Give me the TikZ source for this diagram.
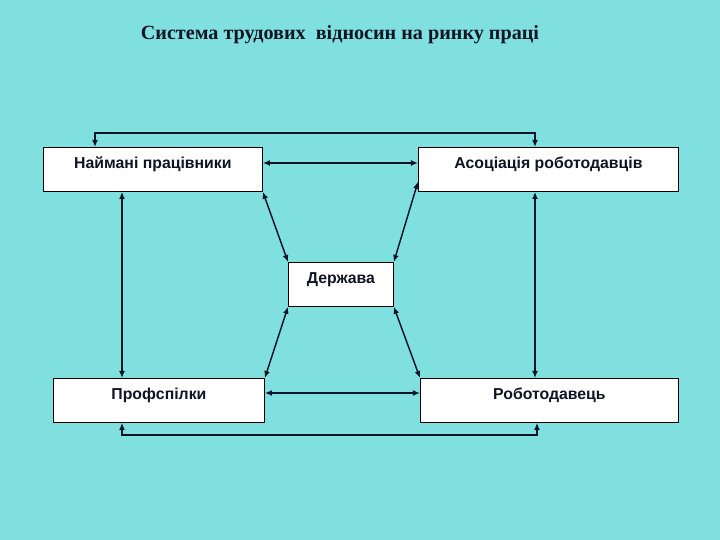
\documentclass[tikz,border=0pt]{standalone}
\usepackage{fontspec}
\setmainfont{Liberation Serif}
\setsansfont{Liberation Sans}
\usetikzlibrary{arrows.meta}
\definecolor{bgcyan}{RGB}{128,224,224}
\definecolor{linedark}{RGB}{16,20,36}
\tikzset{
  box/.style={draw=black, line width=0.7pt, fill=white, anchor=north west,
    inner sep=0pt, text height=0.62cm, text depth=0.70cm,
    font=\sffamily\bfseries\fontsize{13.5}{16}\selectfont, text=linedark},
  link/.style={draw=linedark, line width=1.25pt,
    {Latex[length=6pt,width=5pt]}-{Latex[length=6pt,width=5pt]}},
}
\begin{document}
\begin{tikzpicture}[x=0.03cm, y=-0.03cm]
    \fill[bgcyan] (0,0) rectangle (720,540);
    \useasboundingbox (0,0) rectangle (720,540);
    \node[text=linedark, font=\bfseries\fontsize{17.2}{20}\selectfont] (title) at (340,35)
      {Система трудових\ \ відносин на ринку праці};
    % boxes
    \node[box, minimum width=6.57cm] (hire) at (43,147) {Наймані працівники};
    \node[box, minimum width=7.8cm] (assoc) at (418,147) {Асоціація роботодавців};
    \node[box, minimum width=3.15cm] (state) at (288,262) {Держава};
    \node[box, minimum width=6.33cm] (union) at (53,378) {Профспілки};
    \node[box, minimum width=7.74cm] (empl) at (420,378) {Роботодавець};
    % helper points
    \coordinate (tl) at (95,133);
    \coordinate (tr) at (535,133);
    \coordinate (bl) at (122,435);
    \coordinate (br) at (537,435);
    \coordinate (lv) at (122,0);
    \coordinate (rv) at (535,0);
    \coordinate (ht) at (0,163);
    \coordinate (hb) at (0,393);
    % connectors
    \draw[link] (hire.north -| tl) -- (tl) -- (tr) -- (assoc.north -| tr);
    \draw[link] (union.south -| bl) -- (bl) -- (br) -- (empl.south -| br);
    \draw[link] (hire.south -| lv) -- (union.north -| lv);
    \draw[link] (assoc.south -| rv) -- (empl.north -| rv);
    \draw[link] (hire.east |- ht) -- (assoc.west |- ht);
    \draw[link] (union.east |- hb) -- (empl.west |- hb);
    \draw[link] (hire.south east) -- (state.north west);
    \draw[link] ([yshift=0.3cm]assoc.south west) -- (state.north east);
    \draw[link] (state.south west) -- (union.north east);
    \draw[link] (state.south east) -- (empl.north west);
\end{tikzpicture}
\end{document}
